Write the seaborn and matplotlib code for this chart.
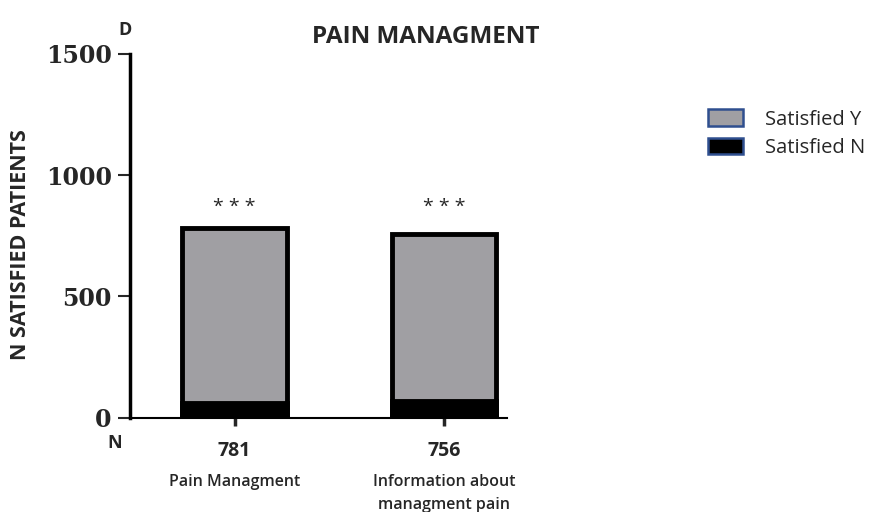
import matplotlib
matplotlib.use("Agg")
import matplotlib.pyplot as plt
import matplotlib.patches as mpatches
import seaborn as sns
import pandas as pd

# Data
categories = ["Pain Managment", "Information about\nmanagment pain"]
n_totals = [781, 756]
satisfied_no = [62, 70]
satisfied_yes = [t - n for t, n in zip(n_totals, satisfied_no)]
yticks = [0, 500, 1000, 1500]
significance = ["* * *", "* * *"]

gray = "#a09fa3"

sns.set_style("white")
plt.rcParams["font.family"] = ["Open Sans", "DejaVu Sans"]

df = pd.DataFrame({"category": categories,
                   "total": [y + n for y, n in zip(satisfied_yes, satisfied_no)],
                   "no": satisfied_no})

fig = plt.figure(figsize=(8.77, 5.12), dpi=100)
ax = fig.add_axes([0.148, 0.184, 0.430, 0.711])

sns.barplot(data=df, x="category", y="total", color=gray, width=0.5,
            edgecolor="black", linewidth=3.5, saturation=1, ax=ax)
sns.barplot(data=df, x="category", y="no", color="black", width=0.5,
            edgecolor="black", linewidth=3.5, saturation=1, ax=ax)

ax.set_ylim(0, 1500)
ax.set_xlim(-0.5, 1.3)
ax.set_yticks(yticks)
ax.set_yticklabels([str(v) for v in yticks], family="DejaVu Serif",
                   fontweight="bold", fontsize=17)
ax.set_xticks([0, 1])
ax.set_xticklabels([])
ax.tick_params(axis="y", length=9, width=1.5, direction="out", left=True, pad=4)
ax.tick_params(axis="x", length=6, width=2.5, direction="out", bottom=True)
for side in ["top", "right"]:
    ax.spines[side].set_visible(False)
ax.spines["left"].set_linewidth(2.5)
ax.spines["bottom"].set_linewidth(1.5)
ax.spines["left"].set_color("black")
ax.spines["bottom"].set_color("black")
ax.set_xlabel("")
ax.set_ylabel("")
fig.text(0.023, 0.523, "N SATISFIED PATIENTS", rotation=90, ha="center",
         va="center", fontweight="bold", fontsize=15.5)

# Significance markers and counts
for i, (tot, sig, cat) in enumerate(zip(n_totals, significance, categories)):
    ax.text(i, 870, sig, ha="center", va="center", fontsize=14)
    ax.text(i, -135, str(tot), ha="center", va="center", fontsize=14,
            fontweight="bold")
    ax.text(i, -230, cat, ha="center", va="top", fontsize=11.5,
            fontweight=600, linespacing=1.6)

ax.text(-0.57, -105, "N", ha="center", va="center", fontsize=13, fontweight="bold")
fig.text(0.143, 0.942, "D", ha="center", va="center", fontsize=13, fontweight="bold")
fig.text(0.486, 0.928, "PAIN MANAGMENT", ha="center", va="center",
         fontsize=17.5, fontweight="bold")

handles = [mpatches.Patch(facecolor=gray, edgecolor="#2f4f8f", linewidth=1.8,
                          label="Satisfied Y"),
           mpatches.Patch(facecolor="black", edgecolor="#2f4f8f", linewidth=1.8,
                          label="Satisfied N")]
fig.legend(handles=handles, loc="upper left", bbox_to_anchor=(0.787, 0.822),
           frameon=False, fontsize=14.5, handlelength=1.7, handleheight=0.9,
           handletextpad=1.1, labelspacing=0.4)

fig.savefig("out.png", dpi=100)
